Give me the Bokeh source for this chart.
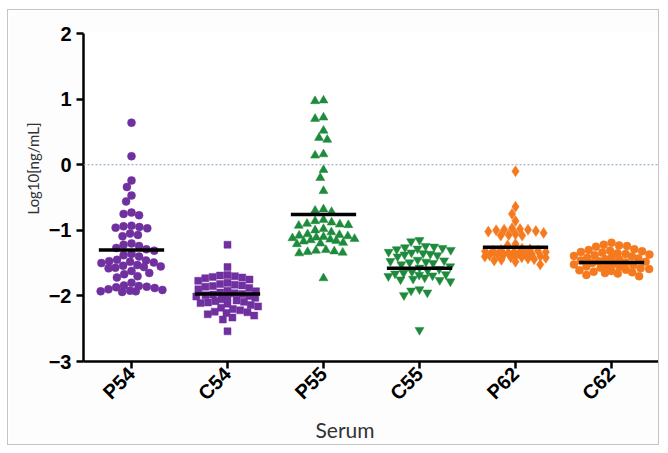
import math
from bokeh.plotting import figure
from bokeh.models import FixedTicker, Span, CustomJSTickFormatter, Title
from bokeh.embed import file_html
from bokeh.resources import INLINE

groups = ["P54", "C54", "P55", "C55", "P62", "C62"]

p54 = [0.64, 0.13, -0.24, -0.34, -0.47, -0.56, -0.73, -0.75, -0.77, -0.93, -0.94, -0.95,
       -0.96, -0.97, -1.05, -1.07, -1.09, -1.20, -1.22, -1.24, -1.27, -1.29, -1.31, -1.36,
       -1.38, -1.40, -1.45, -1.46, -1.47, -1.48, -1.49, -1.50, -1.53, -1.54, -1.55, -1.56,
       -1.57, -1.58, -1.62, -1.65, -1.67, -1.70, -1.72, -1.80, -1.84, -1.85, -1.86, -1.87,
       -1.88, -1.90, -1.91, -1.92, -1.93, -1.93, -1.94]
c54 = [-1.22, -1.56, -1.68, -1.69, -1.70, -1.71, -1.72, -1.73, -1.75, -1.77, -1.80, -1.82,
       -1.83, -1.84, -1.85, -1.86, -1.88, -1.90, -1.92, -1.93, -1.95, -1.96, -1.97, -1.98,
       -1.99, -2.00, -2.01, -2.02, -2.03, -2.05, -2.07, -2.08, -2.09, -2.10, -2.11, -2.12,
       -2.14, -2.16, -2.18, -2.20, -2.22, -2.24, -2.25, -2.26, -2.28, -2.30, -2.33, -2.36,
       -2.54]
p55 = [0.98, 0.97, 0.72, 0.70, 0.52, 0.41, 0.38, 0.16, 0.14, -0.08, -0.20, -0.40, -0.68,
       -0.70, -0.72, -0.84, -0.86, -0.88, -0.90, -0.91, -0.92, -0.93, -0.98, -1.00, -1.03,
       -1.06, -1.07, -1.08, -1.09, -1.10, -1.11, -1.12, -1.13, -1.14, -1.15, -1.16, -1.17,
       -1.19, -1.20, -1.21, -1.30, -1.31, -1.32, -1.33, -1.34, -1.35, -1.73]
c55 = [-1.15, -1.17, -1.24, -1.25, -1.26, -1.27, -1.28, -1.29, -1.30, -1.33, -1.34, -1.35,
       -1.36, -1.37, -1.38, -1.40, -1.45, -1.46, -1.47, -1.48, -1.49, -1.50, -1.52, -1.55,
       -1.57, -1.59, -1.61, -1.63, -1.65, -1.66, -1.67, -1.68, -1.69, -1.70, -1.72, -1.74,
       -1.75, -1.76, -1.78, -1.90, -1.92, -1.95, -1.99, -2.52]
p62 = [-0.10, -0.64, -0.75, -0.86, -0.97, -0.98, -0.99, -0.99, -1.00, -1.01, -1.02, -1.04,
       -1.06, -1.07, -1.08, -1.08, -1.21, -1.23, -1.28, -1.29, -1.30, -1.31, -1.31, -1.32,
       -1.33, -1.33, -1.34, -1.35, -1.35, -1.36, -1.37, -1.37, -1.38, -1.39, -1.39, -1.40,
       -1.41, -1.41, -1.42, -1.43, -1.44, -1.45, -1.46, -1.48, -1.52]
c62 = [-1.19, -1.22, -1.23, -1.24, -1.25, -1.29, -1.30, -1.31, -1.32, -1.33, -1.34, -1.35,
       -1.36, -1.37, -1.38, -1.39, -1.40, -1.41, -1.42, -1.43, -1.44, -1.45, -1.46, -1.47,
       -1.48, -1.49, -1.50, -1.51, -1.52, -1.53, -1.54, -1.55, -1.56, -1.57, -1.58, -1.59,
       -1.60, -1.61, -1.62, -1.63, -1.64, -1.65, -1.66, -1.68, -1.70]
series = [p54, c54, p55, c55, p62, c62]
centers = [-1.30, -1.97, -0.76, -1.58, -1.26, -1.49]
y_ticks = [-3, -2, -1, 0, 1, 2]
x_title = "Serum"
y_title = "Log10[ng/mL]"

colors = ["#7030A0", "#7030A0", "#1E8B3C", "#1E8B3C", "#F57A1F", "#F57A1F"]
markers = ["circle", "square", "triangle", "inverted_triangle", "diamond", "circle"]
sizes = [8, 7, 9, 9, 11, 8]
spacing = [8, 7.5, 8.5, 8.5, 8, 8]
caps = [32, 32, 32, 32, 32, 38]

FRAME_W, FRAME_H = 576, 328
PX_X = FRAME_W / 6.0
PX_Y = FRAME_H / 5.0


def swarm(vals, d0, cap):
    ys = [v * PX_Y for v in vals]
    order = sorted(range(len(vals)), key=lambda i: -vals[i])
    placed = []
    xs = [0.0] * len(vals)
    for i in order:
        y = ys[i]
        d = d0
        chosen = None
        while chosen is None:
            iv = []
            for (px, py) in placed:
                dy = abs(py - y)
                if dy < d:
                    w = math.sqrt(d * d - dy * dy)
                    iv.append((px - w, px + w))
            cands = [0.0] + [a for a, b in iv] + [b for a, b in iv]
            cands = [c for c in cands if abs(c) <= cap]
            cands.sort(key=lambda c: (abs(c), c))
            for c in cands:
                if all(not (a + 1e-9 < c < b - 1e-9) for a, b in iv):
                    chosen = c
                    break
            d *= 0.85
        xs[i] = chosen
        placed.append((chosen, y))
    return [x / PX_X for x in xs]


p = figure(width=652, height=436, x_range=(0, 6), y_range=(-3, 2),
           output_backend="svg", toolbar_location=None,
           min_border_left=75, min_border_right=1, min_border_top=23, min_border_bottom=85)
p.styles = {"border": "1px solid #c4c4c4", "margin-left": "7px", "margin-top": "9px"}
p.grid.visible = False
p.outline_line_color = None
p.background_fill_color = "#ffffff"
p.border_fill_color = "#fdfdfe"

p.add_layout(Span(location=0, dimension="width", line_color="#86a3b8",
                  line_dash="2 2", line_width=1))

for k, vals in enumerate(series):
    offs = swarm(vals, spacing[k], caps[k])
    xs = [k + 0.5 + o for o in offs]
    p.scatter(xs, vals, marker=markers[k], size=sizes[k], fill_color=colors[k],
              line_color=colors[k], line_width=0.5)

p.segment(x0=[k + 0.5 - 0.34 for k in range(6)], x1=[k + 0.5 + 0.34 for k in range(6)],
          y0=centers, y1=centers, line_color="black", line_width=3.5)

for ax in (p.xaxis[0], p.yaxis[0]):
    ax.axis_line_width = 2.5
    ax.axis_line_color = "black"
    ax.major_tick_line_width = 2.5
    ax.major_tick_line_color = "black"
    ax.major_tick_in = 0
    ax.major_tick_out = 7
    ax.minor_tick_line_color = None
    ax.major_label_text_font = "Liberation Sans"
    ax.major_label_text_font_style = "bold"
    ax.major_label_text_font_size = "20px"
    ax.major_label_text_color = "black"

p.yaxis.ticker = FixedTicker(ticks=y_ticks)
p.yaxis.major_label_standoff = 5

p.xaxis.ticker = FixedTicker(ticks=[k + 0.5 for k in range(6)])
p.xaxis.formatter = CustomJSTickFormatter(args=dict(names=groups),
                                          code="return names[Math.round(tick - 0.5)];")
p.xaxis.major_label_orientation = math.pi / 4
p.xaxis.major_label_standoff = 2

p.add_layout(Title(text=y_title, align="left", offset=147, standoff=8,
                   text_font="Lato", text_font_size="15px", text_font_style="normal",
                   text_color="#333333"), "left")
p.add_layout(Title(text=x_title, align="left", offset=232, standoff=0,
                   text_font="Lato", text_font_size="21px", text_font_style="normal",
                   text_color="#333333"), "below")

open("out.html", "w").write(file_html(p, INLINE))
